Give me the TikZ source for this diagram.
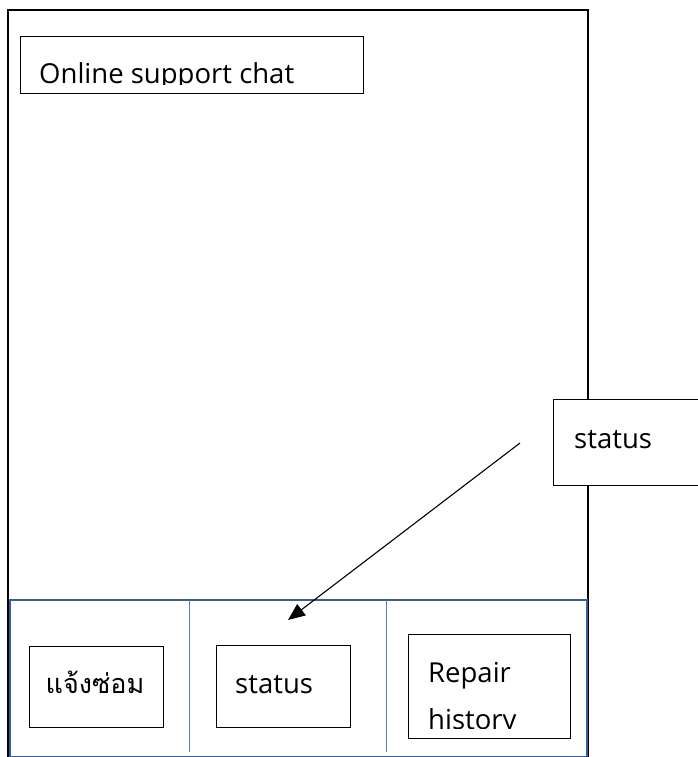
\documentclass[tikz,border=0pt]{standalone}
\usepackage{fontspec}
\setmainfont{Open Sans}
\newfontfamily\thaifont[Script=Thai]{Loma}
\usetikzlibrary{arrows.meta}
\definecolor{panelblue}{HTML}{3A5C9C}
\definecolor{divblue}{HTML}{4F81D0}
\tikzset{
  box/.style={draw=black, line width=1.2pt, fill=white, rectangle, inner sep=0pt},
  lbl/.style={font=\fontsize{27.5}{30}\selectfont, inner sep=0pt, anchor=base west},
  frame/.style={draw=black, line width=2.6pt},
}
\begin{document}
\begin{tikzpicture}[x=1pt,y=-1pt]
\clip (0,0) rectangle (698,757);
\useasboundingbox (0,0) rectangle (698,757);
% outer phone frame
\draw[frame] (8,770) -- (8,10) -- (588,10) -- (588,770);
% top chat box
\node[box, minimum width=343pt, minimum height=57pt, anchor=north west] (chat) at (20,36) {};
\begin{scope}
\clip (20,36) rectangle (363,85);
\node[lbl] (chattext) at (39,84) {Online support chat};
\end{scope}
% bottom panel
\node[draw=panelblue, line width=2.2pt, rectangle, minimum width=577pt, minimum height=157pt, anchor=north west, inner sep=0pt] (panel) at (9,599) {};
\draw[divblue, line width=1pt] (189,600) -- (189,752);
\draw[divblue, line width=1pt] (386,600) -- (386,752);
% bottom buttons
\node[box, minimum width=134pt, minimum height=81pt, anchor=north west] (report) at (29,646) {};
\node[lbl, anchor=base, font=\thaifont\fontsize{27}{30}\selectfont] (reporttext) at (95,693) {แจ้งซ่อม};
\node[box, minimum width=134pt, minimum height=82pt, anchor=north west] (status) at (216,645) {};
\node[lbl] (statustext) at (235,693) {status};
\node[box, minimum width=162pt, minimum height=104pt, anchor=north west] (history) at (408,634) {};
\begin{scope}
\clip (408,634) rectangle (570,728);
\node[lbl] (histtext1) at (428,682) {Repair};
\node[lbl] (histtext2) at (428,729) {history};
\end{scope}
% callout
\node[box, minimum width=160pt, minimum height=86pt, anchor=north west] (callout) at (553,399) {};
\node[lbl] (callouttext) at (574,448) {status};
\coordinate (arrstart) at (520,443);
\coordinate (arrtip) at (288,620);
\draw[line width=1.1pt, -{Triangle[length=17pt,width=14pt]}] (arrstart) -- (arrtip);
\end{tikzpicture}
\end{document}
